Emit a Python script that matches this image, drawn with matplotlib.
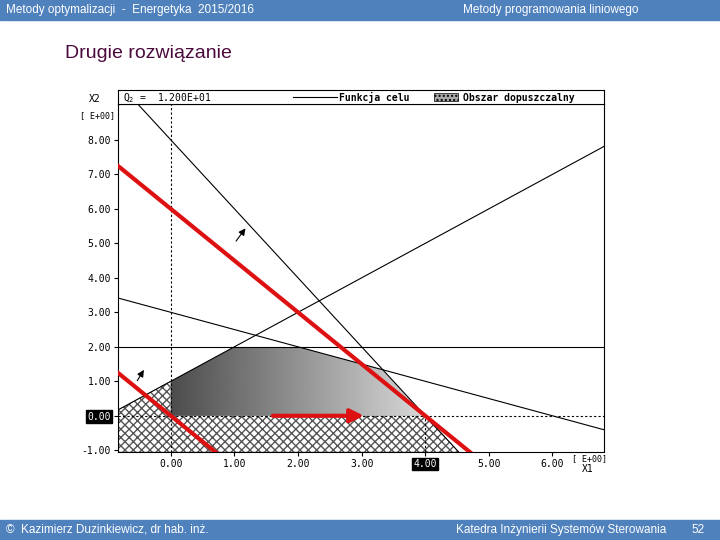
import matplotlib
matplotlib.use('Agg')
import matplotlib.pyplot as plt
import numpy as np
from matplotlib.patches import Polygon

# constraint lines y = a*x + b
lines_ab = [(-2.0, 8.0), (-0.5, 3.0), (1.0, 1.0)]
y_const = 2.0
# feasible region vertices
feas_x = [0, 0, 1, 2, 10/3, 4]
feas_y = [0, 1, 2, 2, 4/3, 0]
# objective 3*x1 + 2*x2 = q
obj_q = [12.0, 0.0]
arrow_start, arrow_end = 1.56, 3.08
xticks = [0, 1, 2, 3, 4, 5, 6]
yticks = [-1, 0, 1, 2, 3, 4, 5, 6, 7, 8]

xmin, xmax, ymin, ymax = -0.83, 6.81, -1.05, 9.04

plt.rcParams['font.family'] = ['Liberation Sans', 'DejaVu Sans']
fig = plt.figure(figsize=(7.2, 5.4), dpi=100)

# header / footer bars
blue = '#4f81bd'
fig.patches.append(plt.Rectangle((0, 1-20/540), 1, 20/540, transform=fig.transFigure, color=blue))
fig.patches.append(plt.Rectangle((0, 0), 1, 20/540, transform=fig.transFigure, color=blue))
fig.text(0.008, 1-10/540, 'Metody optymalizacji  -  Energetyka  2015/2016', color='white', fontsize=8.5, va='center')
fig.text(0.765, 1-10/540, 'Metody programowania liniowego', color='white', fontsize=8.5, va='center', ha='center')
fig.text(0.008, 10/540, '©  Kazimierz Duzinkiewicz, dr hab. inż.', color='white', fontsize=8.5, va='center')
fig.text(0.78, 10/540, 'Katedra Inżynierii Systemów Sterowania', color='white', fontsize=8.5, va='center', ha='center')
fig.text(0.97, 10/540, '52', color='white', fontsize=8.5, va='center', ha='center')
fig.text(65/720, 1-54/540, 'Drugie rozwiązanie', color='#4b0a3c', fontsize=14, va='center')

ax = fig.add_axes([118/720, 1-452/540, 486/720, 348/540])
ax.set_xlim(xmin, xmax)
ax.set_ylim(ymin, ymax)
mono = 'DejaVu Sans Mono'

# hatched region
hx = [xmin, xmin, 0, 0, 4, 4 - ymin / 2]
hy = [ymin, xmin + 1, 1, 0, 0, ymin]
ax.add_patch(Polygon(list(zip(hx, hy)), closed=True, facecolor='white', edgecolor='#555', hatch='xxxx', lw=0.3))

# gray feasible region with gradient
poly = Polygon(list(zip(feas_x, feas_y)), closed=True, facecolor='none', edgecolor='none')
ax.add_patch(poly)
grad = np.linspace(0.3, 0.85, 200)[None, :]
im = ax.imshow(grad, extent=[0, 4, 0, 2], cmap='gray', vmin=0, vmax=1, aspect='auto', zorder=1)
im.set_clip_path(poly)

xs = np.array([xmin, xmax])
for a, b in lines_ab:
    ax.plot(xs, a * xs + b, color='black', lw=0.8, zorder=3)
ax.axhline(y_const, color='black', lw=0.8, zorder=3)
ax.axhline(0, color='black', lw=0.8, ls=(0, (2, 2)), zorder=3)
ax.axvline(0, color='black', lw=0.8, ls=(0, (2, 2)), zorder=3)
ax.plot([4, 4], [ymin, 0], color='black', lw=0.8, ls=(0, (2, 2)), zorder=3)

for q in obj_q:
    ax.plot(xs, (q - 3 * xs) / 2, color='#dd1111', lw=3, zorder=4)
ax.annotate('', xy=(arrow_end, 0), xytext=(arrow_start, 0),
            arrowprops=dict(arrowstyle='-|>', color='#dd1111', lw=3, mutation_scale=20), zorder=5)
# normal arrows
ax.annotate('', xy=(1.2, 5.5), xytext=(1.0, 5.0), arrowprops=dict(arrowstyle='-|>', color='black', lw=0.8))
ax.annotate('', xy=(-0.4, 1.4), xytext=(-0.55, 0.95), arrowprops=dict(arrowstyle='-|>', color='black', lw=0.8))

ax.set_xticks(xticks)
ax.set_yticks(yticks)
ax.set_xticklabels([f'{v:.2f}' for v in xticks], fontfamily=mono, fontsize=7)
ax.set_yticklabels([f'{v:.2f}' for v in yticks], fontfamily=mono, fontsize=7)
ax.tick_params(length=3, width=0.8, pad=2)
for lbl in ax.get_xticklabels():
    if lbl.get_text() == '4.00':
        lbl.set_color('white'); lbl.set_bbox(dict(facecolor='black', edgecolor='black', pad=1))
for lbl in ax.get_yticklabels():
    if lbl.get_text() == '0.00':
        lbl.set_color('white'); lbl.set_bbox(dict(facecolor='black', edgecolor='black', pad=1))

fig.text(95/720, 1-99/540, 'X2', fontfamily=mono, fontsize=7, ha='center', va='center')
fig.text(98/720, 1-116/540, '[ E+00]', fontfamily=mono, fontsize=6, ha='center', va='center')
fig.text(589/720, 1-459/540, '[ E+00]', fontfamily=mono, fontsize=6, ha='center', va='center')
fig.text(588/720, 1-469/540, 'X1', fontfamily=mono, fontsize=7, ha='center', va='center')

# legend band
lg = fig.add_axes([118/720, 1-104/540, 486/720, 14/540])
lg.set_xlim(0, 1); lg.set_ylim(0, 1)
lg.set_xticks([]); lg.set_yticks([])
lg.text(0.01, 0.45, 'Q$_2$ =  1.200E+01', fontfamily=mono, fontsize=7, va='center')
lg.plot([0.36, 0.45], [0.5, 0.5], color='black', lw=0.8)
lg.text(0.455, 0.45, 'Funkcja celu', fontfamily=mono, fontsize=7, va='center', fontweight='bold')
lg.add_patch(plt.Rectangle((0.65, 0.2), 0.05, 0.6, facecolor='#aaa', edgecolor='black', hatch='....', lw=0.5))
lg.text(0.71, 0.45, 'Obszar dopuszczalny', fontfamily=mono, fontsize=7, va='center', fontweight='bold')

fig.savefig('out.png', dpi=100)
